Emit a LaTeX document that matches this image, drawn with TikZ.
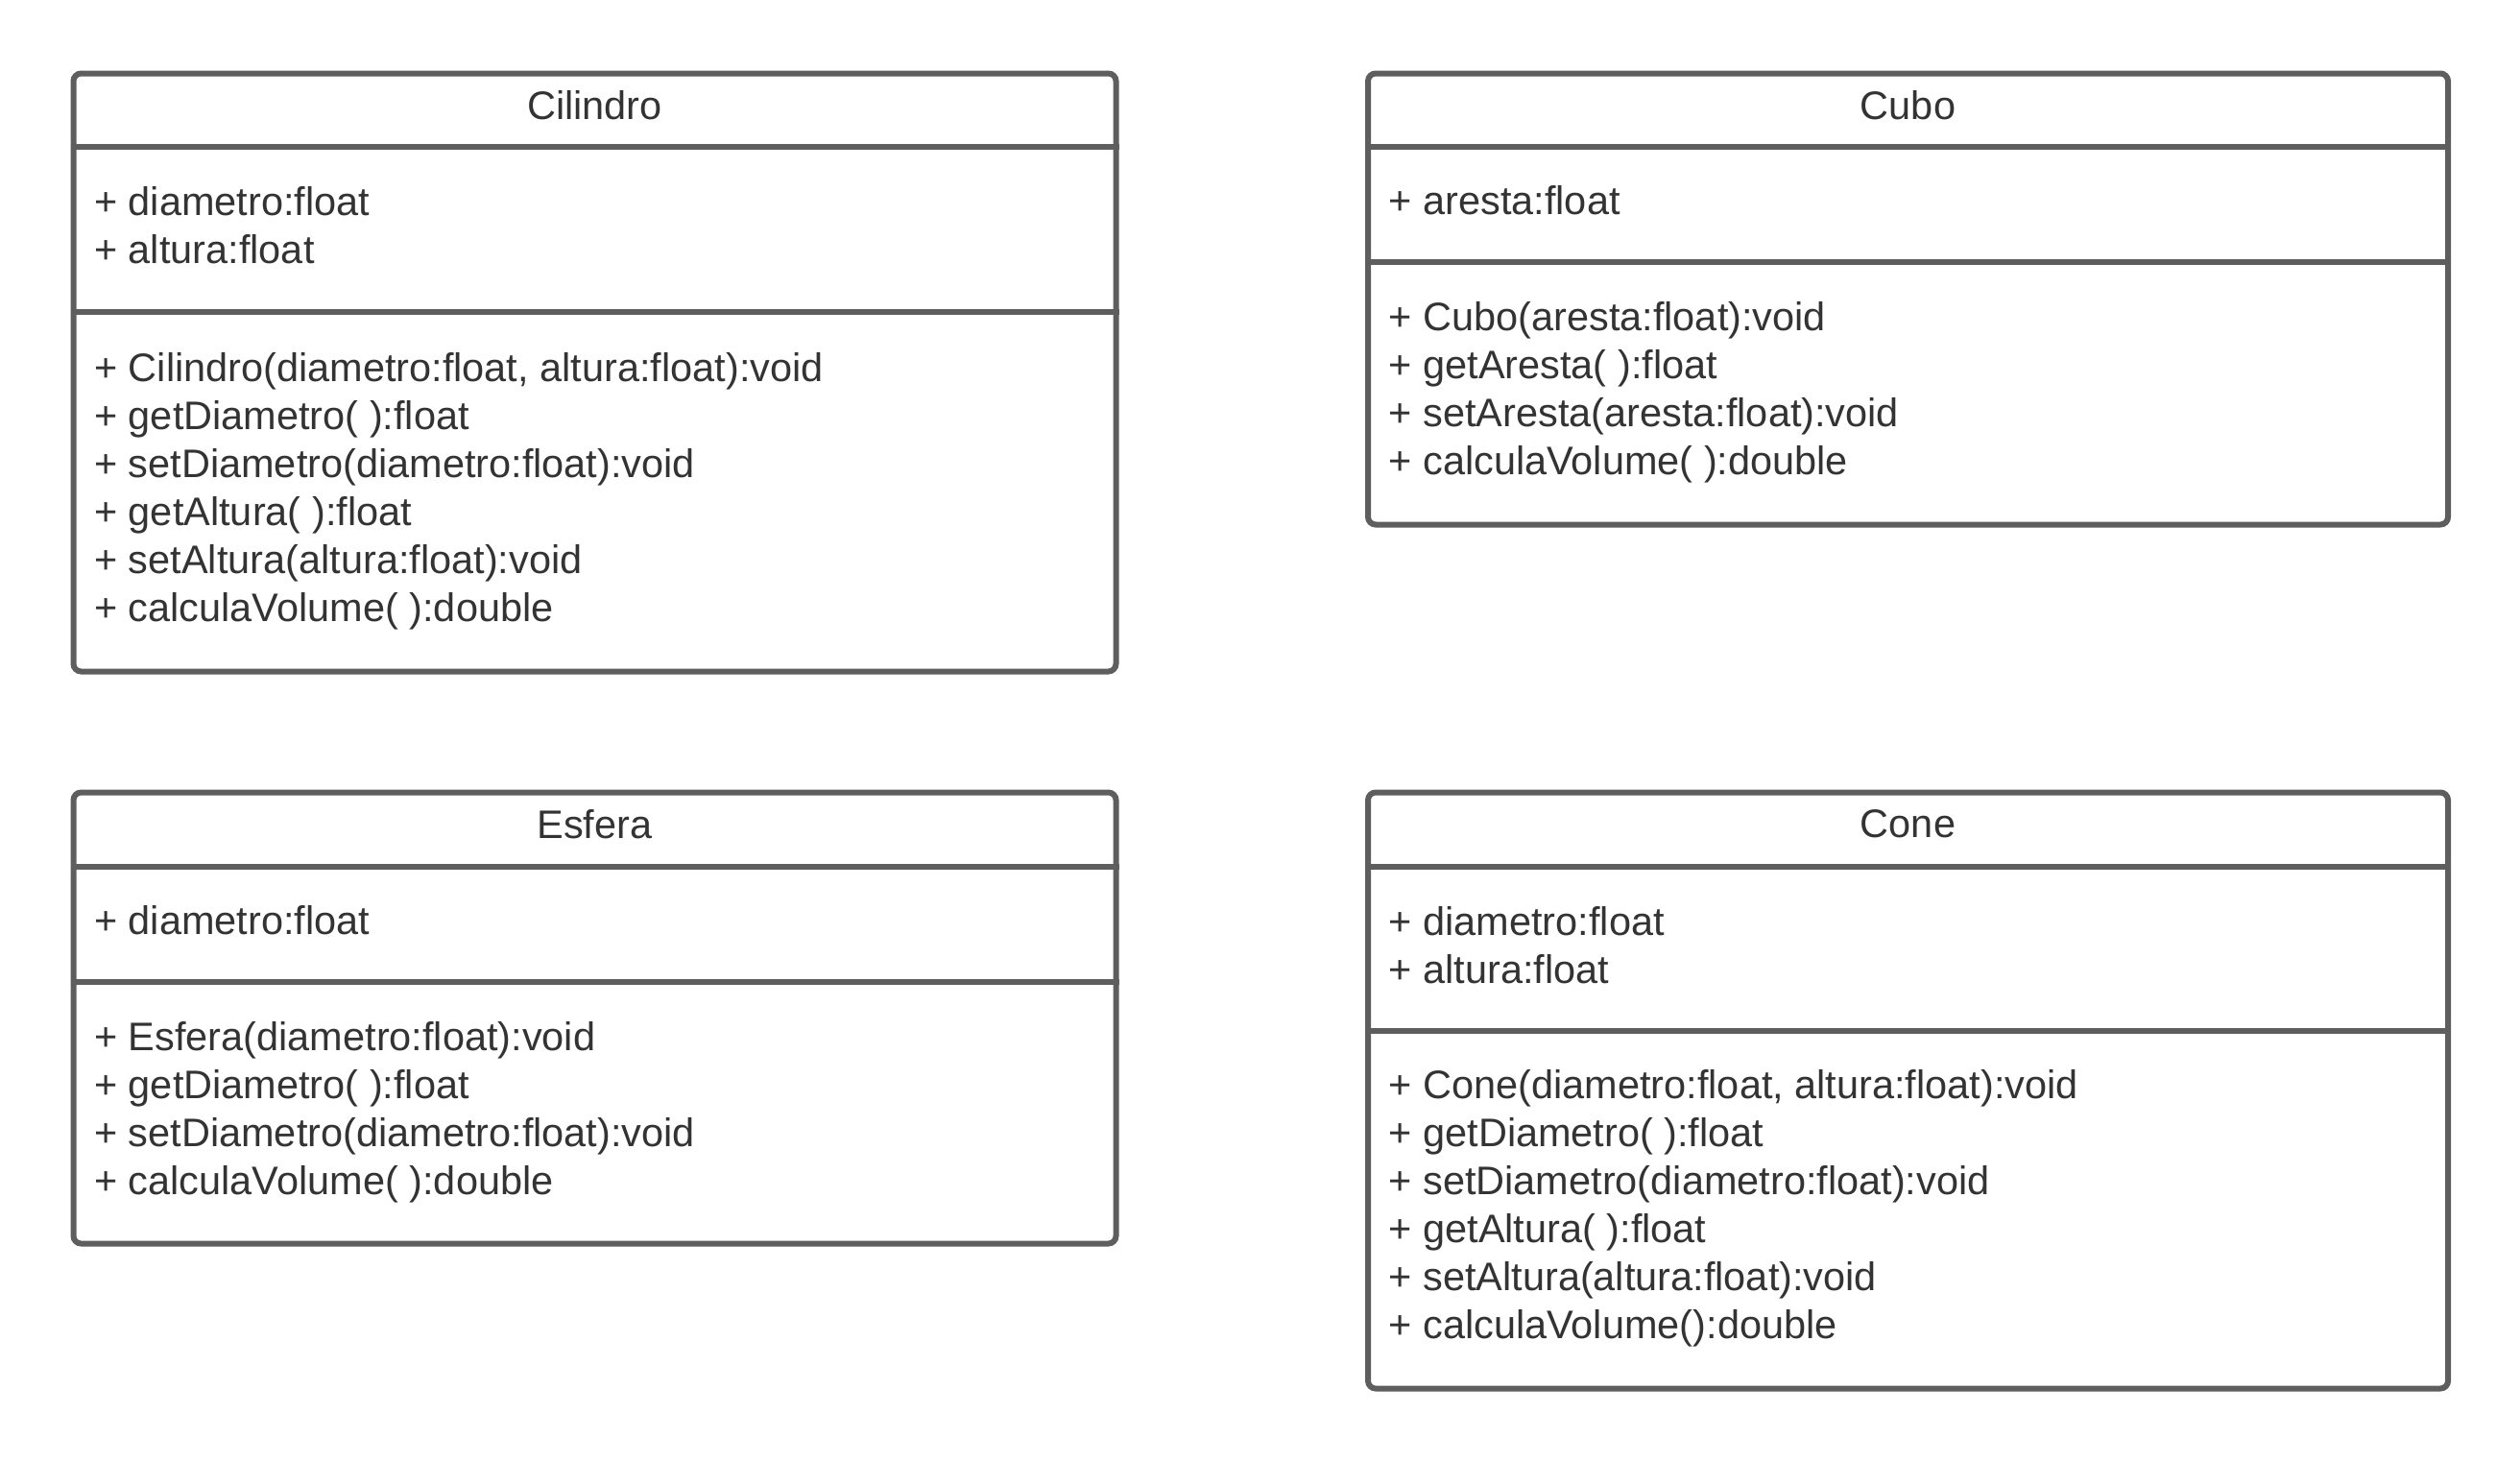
\documentclass[tikz,border=0pt]{standalone}
\usepackage{fontspec}
\setmainfont{Liberation Sans}
\usepackage{tikz}
\usetikzlibrary{positioning,calc}
\definecolor{umlLine}{RGB}{94,94,94}
\definecolor{umlText}{RGB}{51,51,51}

\begin{document}
\begin{tikzpicture}[
  cls/.style={rectangle,draw=umlLine,line width=0.06cm,rounded corners=0.08cm,
              anchor=north west,inner sep=0pt},
  sep/.style={draw=umlLine,line width=0.06cm},
  title/.style={font=\fontsize{11.8pt}{14.23pt}\selectfont,text=umlText,inner sep=0pt},
  members/.style={font=\fontsize{11.8pt}{14.23pt}\selectfont,text=umlText,align=left,
                  anchor=west,inner sep=0pt}
]
  \useasboundingbox (0,0) rectangle (26.25,-15.21);

  % Cilindro
  \node[cls,minimum width=10.86cm,minimum height=6.23cm](cil) at (0.735,-0.735) {};
  \draw[sep]([yshift=-0.79cm]cil.north west)--([yshift=-0.79cm]cil.north east);
  \draw[sep]([yshift=-2.51cm]cil.north west)--([yshift=-2.51cm]cil.north east);
  \node[title](cilT) at ([yshift=-0.36cm]cil.north) {Cilindro};
  \node[members](cilA) at ([xshift=0.24cm,yshift=-1.61cm]cil.north west)
      {+ diametro:float\\+ altura:float};
  \node[members](cilM) at ([xshift=0.24cm,yshift=-4.38cm]cil.north west)
      {+ Cilindro(diametro:float, altura:float):void\\+ getDiametro( ):float\\
       + setDiametro(diametro:float):void\\+ getAltura( ):float\\
       + setAltura(altura:float):void\\+ calculaVolume( ):double};

  % Cubo
  \node[cls,minimum width=11.25cm,minimum height=4.70cm](cubo) at (14.22,-0.735) {};
  \draw[sep]([yshift=-0.79cm]cubo.north west)--([yshift=-0.79cm]cubo.north east);
  \draw[sep]([yshift=-1.995cm]cubo.north west)--([yshift=-1.995cm]cubo.north east);
  \node[title](cuboT) at ([yshift=-0.36cm]cubo.north) {Cubo};
  \node[members](cuboA) at ([xshift=0.24cm,yshift=-1.35cm]cubo.north west)
      {+ aresta:float};
  \node[members](cuboM) at ([xshift=0.24cm,yshift=-3.35cm]cubo.north west)
      {+ Cubo(aresta:float):void\\+ getAresta( ):float\\
       + setAresta(aresta:float):void\\+ calculaVolume( ):double};

  % Esfera
  \node[cls,minimum width=10.86cm,minimum height=4.70cm](esf) at (0.735,-8.225) {};
  \draw[sep]([yshift=-0.80cm]esf.north west)--([yshift=-0.80cm]esf.north east);
  \draw[sep]([yshift=-2.005cm]esf.north west)--([yshift=-2.005cm]esf.north east);
  \node[title](esfT) at ([yshift=-0.36cm]esf.north) {Esfera};
  \node[members](esfA) at ([xshift=0.24cm,yshift=-1.36cm]esf.north west)
      {+ diametro:float};
  \node[members](esfM) at ([xshift=0.24cm,yshift=-3.36cm]esf.north west)
      {+ Esfera(diametro:float):void\\+ getDiametro( ):float\\
       + setDiametro(diametro:float):void\\+ calculaVolume( ):double};

  % Cone
  \node[cls,minimum width=11.25cm,minimum height=6.21cm](cone) at (14.22,-8.225) {};
  \draw[sep]([yshift=-0.80cm]cone.north west)--([yshift=-0.80cm]cone.north east);
  \draw[sep]([yshift=-2.51cm]cone.north west)--([yshift=-2.51cm]cone.north east);
  \node[title](coneT) at ([yshift=-0.36cm]cone.north) {Cone};
  \node[members](coneA) at ([xshift=0.24cm,yshift=-1.62cm]cone.north west)
      {+ diametro:float\\+ altura:float};
  \node[members](coneM) at ([xshift=0.24cm,yshift=-4.36cm]cone.north west)
      {+ Cone(diametro:float, altura:float):void\\+ getDiametro( ):float\\
       + setDiametro(diametro:float):void\\+ getAltura( ):float\\
       + setAltura(altura:float):void\\+ calculaVolume():double};
\end{tikzpicture}
\end{document}
